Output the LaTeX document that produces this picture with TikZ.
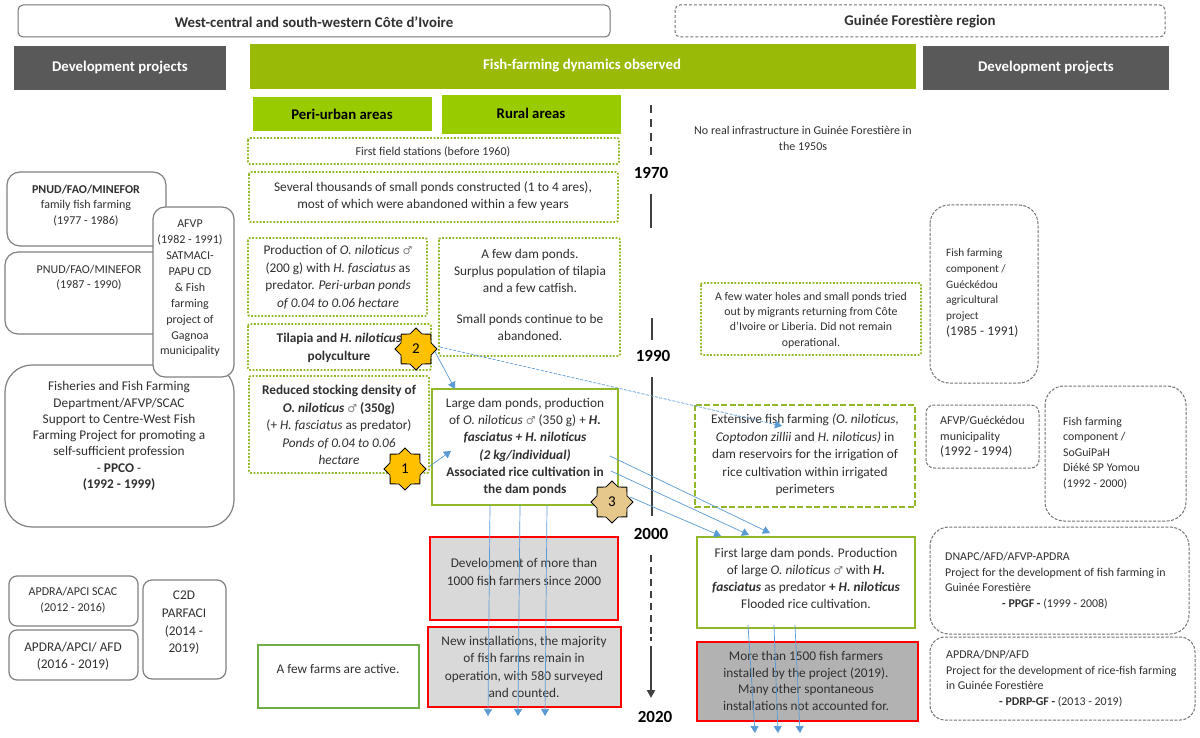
\documentclass[tikz,border=0pt]{standalone}
\usepackage{fontspec}
\setmainfont{Carlito}
\usetikzlibrary{arrows.meta,shapes.geometric}
\newfontfamily\symfont{DejaVu Sans}
\newcommand{\mars}{{\symfont\fontsize{11}{11}\selectfont\textcolor{black!50}{♂}}}
\newcommand{\yr}[1]{{\fontsize{13.3}{15}\selectfont #1}}
\definecolor{gbar}{HTML}{99BB07}
\definecolor{gcell}{HTML}{99CC00}
\definecolor{gline}{HTML}{92B82A}
\definecolor{gsoft}{HTML}{70AD47}
\definecolor{dgrey}{HTML}{595959}
\definecolor{txt}{HTML}{303030}
\definecolor{blueline}{HTML}{5B9BD5}
\definecolor{stara}{HTML}{FFC000}
\definecolor{starb}{HTML}{E6C88C}
\tikzset{
  x=1pt,y=-1pt,
  every node/.style={font=\fontsize{13.3}{17.5}\selectfont,text=txt,align=center,inner sep=0pt},
  head/.style={font=\fontsize{14.8}{17}\selectfont\bfseries},
  small/.style={font=\fontsize{12}{15.6}\selectfont},
  projbox/.style={draw=black!50,line width=1.2pt,rounded corners=13pt,fill=white},
  dashproj/.style={draw=black!55,line width=1pt,dash pattern=on 3pt off 1.5pt,rounded corners=19pt,fill=white},
  dotbox/.style={draw=gline,line width=1.9pt,dash pattern=on 1.8pt off 1.6pt,rounded corners=2pt,fill=white},
  greenbox/.style={draw=gline,line width=1.9pt,fill=white},
  redbox/.style={draw=red,line width=1.9pt},
  conn/.style={blueline,line width=0.7pt,-{Triangle[length=7pt,width=8pt]}},
  yearlab/.style={font=\fontsize{17}{19}\selectfont\bfseries,text=black},
  badge/.style={shape=star,star points=8,star point ratio=1.3,fill=stara,draw=black,line width=0.8pt,minimum size=42pt,font=\fontsize{15}{15}\selectfont,text=black},
  tline/.style={draw=black!75,line width=1.7pt},
}
\begin{document}
\begin{tikzpicture}
\useasboundingbox (0,0) rectangle (1200,738);
\fill[white] (0,0) rectangle (1200,738);
% headers
\draw[draw=black!55,line width=1pt,rounded corners=5pt] (18,5) rectangle (610,37);
\node[head] (h1) at (314,22) {West-central and south-western Côte d’Ivoire};
\draw[draw=black!55,line width=1pt,dash pattern=on 3pt off 2pt,rounded corners=5pt] (675,5) rectangle (1165,37);
\node[head] (h2) at (920,22) {Guinée Forestière region};
\fill[dgrey] (14,46) rectangle (226,90);
\node[head,text=white] (dpl) at (120,68) {Development projects};
\fill[gbar] (250,44) rectangle (916,89);
\node[head,text=white] (fish) at (582,66) {Fish-farming dynamics observed};
\fill[dgrey] (923,46) rectangle (1169,90);
\node[head,text=white] (dpr) at (1046,68) {Development projects};
\fill[gcell] (253,97) rectangle (432,131);
\node[head,text=black] (peri) at (342,114) {Peri-urban areas};
\fill[gcell] (442,95) rectangle (621,134);
\node[head,text=black] (rural) at (531,113) {Rural areas};
% left projects
\draw[projbox] (7,172) rectangle (166,246);
\node[small] (p1) at (86,205.5) {\textbf{PNUD/FAO/MINEFOR}\\family fish farming\\(1977 - 1986)};
\draw[projbox] (5,252) rectangle (166,334);
\node[small] (p2) at (89,277.7) {PNUD/FAO/MINEFOR\\(1987 - 1990)};
\draw[projbox,rounded corners=27pt] (5,365) rectangle (234,527);
\node[font=\fontsize{13.3}{16.3}\selectfont] (p3) at (119,436) {Fisheries and Fish Farming\\Department/AFVP/SCAC\\Support to Centre-West Fish\\Farming Project for promoting a\\self-sufficient profession\\- \textbf{PPCO} -\\\textbf{(1992 - 1999)}};
\draw[projbox,rounded corners=12pt] (153,207) rectangle (234,377);
\node[font=\fontsize{12}{15.9}\selectfont] (p4) at (190,288.5) {AFVP\\(1982 - 1991)\\SATMACI-\\PAPU CD\\\&\ Fish\\farming\\project of\\Gagnoa\\municipality};
\draw[projbox,rounded corners=8pt] (9,576) rectangle (138,626);
\node[small] (p5) at (73,600) {APDRA/APCI SCAC\\(2012 - 2016)};
\draw[projbox,rounded corners=8pt] (9,630) rectangle (138,680);
\node[font=\fontsize{13.3}{16.7}\selectfont] (p6) at (73,656) {APDRA/APCI/ AFD\\(2016 - 2019)};
\draw[projbox,rounded corners=9pt] (143,580) rectangle (226,679);
\node[font=\fontsize{13.3}{17.7}\selectfont] (p7) at (184,623) {C2D\\PARFACI\\(2014 -\\2019)};
% dotted boxes
\draw[dotbox] (248,138) rectangle (619,164);
\node[small] (d1) at (433,152) {First field stations (before 1960)};
\draw[dotbox] (249,172) rectangle (618,222);
\node (d2) at (433,196) {Several thousands of small ponds constructed (1 to 4 ares),\\most of which were abandoned within a few years};
\draw[dotbox] (248,238) rectangle (427,316);
\node (d3) at (338,277) {Production of \textit{O. niloticus} \mars\\(200 g) with \textit{H. fasciatus} as\\predator. \textit{Peri-urban ponds}\\\textit{of 0.04 to 0.06 hectare}};
\draw[dotbox] (439,238) rectangle (620,356);
\node[font=\fontsize{13.3}{17.2}\selectfont] (d4) at (530,295) {A few dam ponds.\\Surplus population of tilapia\\and a few catfish.\\[14pt]Small ponds continue to be\\abandoned.};
\draw[dotbox] (248,324) rectangle (431,370);
\node (d5) at (339,348) {\textbf{Tilapia and \textit{H. niloticus}}\\\textbf{polyculture}};
\draw[dotbox] (249,376) rectangle (429,473);
\node (d6) at (339,425) {\textbf{Reduced stocking density of}\\\textbf{\textit{O. niloticus}} \mars\ \textbf{(350g)}\\(+ \textit{H. fasciatus} as predator)\\\textit{Ponds of 0.04 to 0.06}\\\textit{hectare}};
% central boxes
\draw[greenbox] (432,389) rectangle (618,505);
\node[font=\fontsize{13.3}{17.3}\selectfont] (c1) at (525,447) {Large dam ponds, production\\of \textit{O. niloticus} \mars\ (350 g) + \textbf{\textit{H.}}\\\textbf{\textit{fasciatus + H. niloticus}}\\\textbf{\textit{(2 kg/individual)}}\\\textbf{Associated rice cultivation in}\\\textbf{the dam ponds}};
\draw[redbox,fill=black!15] (430,537) rectangle (618,620);
\node (r1) at (524,572) {Development of more than\\1000 fish farmers since 2000};
\draw[redbox,fill=black!15] (428,627) rectangle (621,707);
\node (r2) at (524,667) {New installations, the majority\\of fish farms remain in\\operation, with 580 surveyed\\and counted.};
\draw[draw=gsoft,line width=1.9pt,fill=white] (258,645) rectangle (419,708);
\node (g1) at (338,669) {A few farms are active.};
% right side
\node[small,font=\fontsize{12}{16}\selectfont] (r0) at (803,138) {No real infrastructure in Guinée Forestière in\\the 1950s};
\draw[dotbox] (701,283) rectangle (921,355);
\node[font=\fontsize{11.8}{15.4}\selectfont] (r3) at (811,320) {A few water holes and small ponds tried\\out by migrants returning from Côte\\d’Ivoire or Liberia. Did not remain\\operational.};
\draw[draw=gline,line width=1.9pt,dash pattern=on 6pt off 2.5pt,fill=white] (695,405) rectangle (915,507);
\node (r4) at (805,455) {Extensive fish farming \textit{(O. niloticus,}\\\textit{Coptodon zillii} and \textit{H. niloticus)} in\\dam reservoirs for the irrigation of\\rice cultivation within irrigated\\perimeters};
\draw[greenbox] (697,537) rectangle (915,628);
\node[font=\fontsize{13.3}{17}\selectfont] (r5) at (806,578) {First large dam ponds. Production\\of large \textit{O. niloticus} \mars\ with \textit{\textbf{H.}}\\\textbf{\textit{fasciatus}} as predator \textbf{+ \textit{H. niloticus}}\\Flooded rice cultivation.};
\draw[redbox,fill=black!30] (697,642) rectangle (918,721);
\node[font=\fontsize{13.3}{16.5}\selectfont] (r6) at (806,681) {More than 1500 fish farmers\\installed by the project (2019).\\Many other spontaneous\\installations not accounted for.};
% right projects
\draw[dashproj] (930,205) rectangle (1038,383);
\node[align=left,font=\fontsize{11.3}{15.8}\selectfont,anchor=west] (q1) at (946,293) {Fish farming\\component /\\Guéckédou\\agricultural\\project\\\yr{(1985 - 1991)}};
\draw[dashproj,rounded corners=8pt] (926,405) rectangle (1039,468);
\node[align=left,anchor=west,font=\fontsize{12}{15.7}\selectfont] (q2) at (940,437) {AFVP/Guéckédou\\municipality\\\yr{(1992 - 1994)}};
\draw[dashproj] (1045,386) rectangle (1186,521);
\node[align=left,font=\fontsize{11.8}{15.6}\selectfont,anchor=west] (q3) at (1063,453) {Fish farming\\component /\\SoGuiPaH\\Diéké SP Yomou\\(1992 - 2000)};
\draw[dashproj] (930,527) rectangle (1189,634);
\node[align=left,font=\fontsize{11.9}{15.6}\selectfont,anchor=west] (q4) at (945,580.7) {DNAPC/AFD/AFVP-APDRA\\Project for the development of fish farming in\\Guinée Forestière\\\hspace*{57pt}\textbf{- PPGF -} (1999 - 2008)};
\draw[dashproj,rounded corners=15pt] (930,637) rectangle (1195,720);
\node[align=left,font=\fontsize{11.9}{15.6}\selectfont,anchor=west] (q5) at (946,678.5) {APDRA/DNP/AFD\\Project for the development of rice-fish farming\\in Guinée Forestière\\\hspace*{53pt}\textbf{- PDRP-GF -} (2013 - 2019)};
% timeline
\node[yearlab] (y70) at (651,173) {1970};
\node[yearlab] (y90) at (653,356) {1990};
\node[yearlab] (y00) at (651,534) {2000};
\node[yearlab] (y20) at (655,717) {2020};
\coordinate (t0) at (651,105);
\coordinate (t1) at (651,160);
\draw[tline,dash pattern=on 8pt off 6pt] (t0) -- (t1);
\coordinate (t2) at (651,194);
\coordinate (t3) at (651,228);
\draw[tline,line width=2.2pt] (t2) -- (t3);
\coordinate (t4) at (652,318);
\coordinate (t5) at (652,340);
\draw[tline,line width=2.2pt] (t4) -- (t5);
\coordinate (t6) at (652,377);
\coordinate (t7) at (652,516);
\draw[tline,line width=2.2pt] (t6) -- (t7);
\coordinate (t10) at (651,646);
\coordinate (t11) at (651,698);
\draw[tline,line width=2.2pt,-{Triangle[length=8pt,width=8pt]}] (t10) -- (t11);
% arrows
\coordinate (a1) at (430,466);
\coordinate (a2) at (451,451);
\draw[conn] (a1) -- (a2);
\coordinate (b1) at (434,350);
\coordinate (b2) at (455,389);
\draw[conn] (b1) -- (b2);
\coordinate (c2a) at (440,347);
\coordinate (c2b) at (782,426);
\draw[conn,dash pattern=on 3pt off 1.5pt] (c2a) -- (c2b);
\coordinate (e1a) at (610,456);
\coordinate (e1b) at (770,533);
\draw[conn] (e1a) -- (e1b);
\coordinate (e2a) at (611,471);
\coordinate (e2b) at (749,535);
\draw[conn] (e2a) -- (e2b);
\coordinate (e3a) at (630,497);
\coordinate (e3b) at (721,536);
\draw[conn] (e3a) -- (e3b);
\foreach \i/\xa/\xb in {1/490/488,2/520/518,3/547/545}{
  \coordinate (v\i a) at (\xa,505);
  \coordinate (v\i b) at (\xb,716);
  \draw[conn] (v\i a) -- (v\i b);
}
\foreach \i/\xa/\xb in {1/748/755,2/774/778,3/795/800}{
  \coordinate (w\i a) at (\xa,625);
  \coordinate (w\i b) at (\xb,733);
  \draw[conn] (w\i a) -- (w\i b);
}
% badges
\node[badge] (s1) at (405,469) {1};
\node[badge] (s2) at (416,349) {2};
\node[badge,fill=starb] (s3) at (612,502) {3};
% dashed part of the timeline, last
\fill[black!75] (649.8,555) rectangle (652.2,562);
\fill[black!75] (649.8,567) rectangle (652.2,574);
\fill[black!75] (649.8,579) rectangle (652.2,586);
\fill[black!75] (649.8,591) rectangle (652.2,598);
\fill[black!75] (649.8,603) rectangle (652.2,610);
\fill[black!75] (649.8,615) rectangle (652.2,622);
\fill[black!75] (649.8,627) rectangle (652.2,634);
\fill[black!75] (649.8,637) rectangle (652.2,641);
\end{tikzpicture}
\end{document}
